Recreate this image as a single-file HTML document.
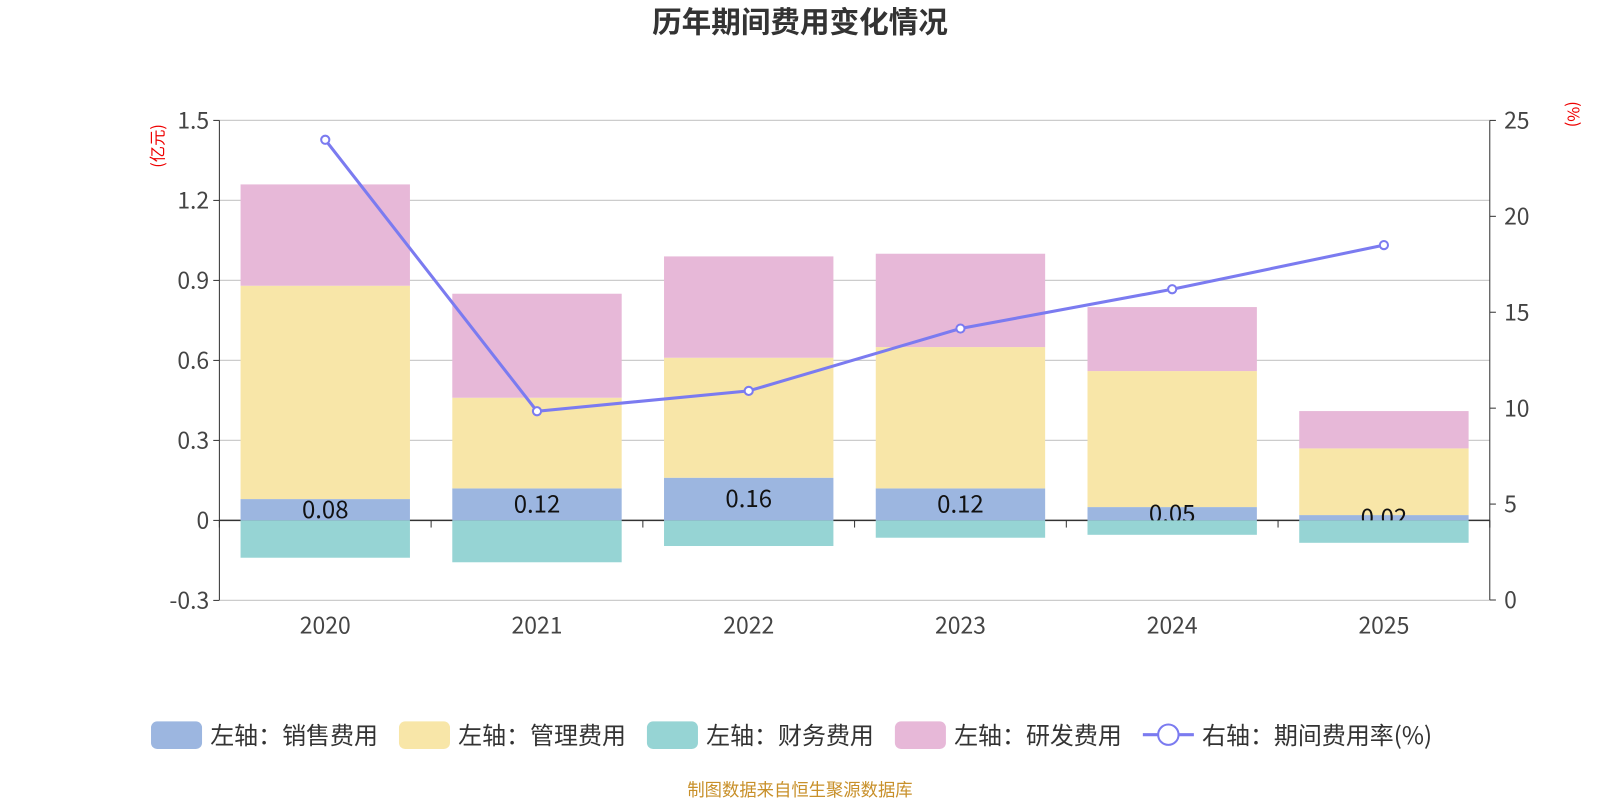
<!DOCTYPE html>
<html><head><meta charset="utf-8"><style>
body{margin:0;background:#fff;width:1600px;height:800px;overflow:hidden}
svg{font-family:"Noto Sans CJK SC","Liberation Sans",sans-serif}
</style></head><body>
<svg id="c" width="1600" height="800">
<g transform="scale(1.0204)">
<text x="784" y="32" text-anchor="middle" font-size="29" font-weight="bold" fill="#333">历年期间费用变化情况</text>
<text transform="translate(160,143) rotate(-90)" text-anchor="middle" font-size="16" fill="#e00">(亿元)</text>
<text transform="translate(1536,112) rotate(90)" text-anchor="middle" font-size="16" fill="#e00">(%)</text>
<g id="grid"></g><g id="bars"></g><g id="axes"></g><g id="line"></g>
<g id="legend" font-size="23.5" fill="#333"></g>
<text x="784" y="780" text-anchor="middle" font-size="17" fill="#c8902a">制图数据来自恒生聚源数据库</text>
</g>
</svg>
<script>
const years=["2020","2021","2022","2023","2024","2025"];
const sales=[0.08,0.12,0.16,0.12,0.05,0.02];
const mgmt=[0.80,0.34,0.45,0.53,0.51,0.25];
const finance=[-0.14,-0.157,-0.096,-0.065,-0.054,-0.084];
const rnd=[0.38,0.39,0.38,0.35,0.24,0.14];
const rate=[23.99,9.84,10.9,14.15,16.2,18.5];
const leftTicks=[-0.3,0,0.3,0.6,0.9,1.2,1.5];
const rightTicks=[0,5,10,15,20,25];
const NS="http://www.w3.org/2000/svg";
const X0=215,X1=1460,bw=(X1-X0)/years.length;
const yL=v=>510-v*(392/1.5);
const yR=v=>588-v*(470/25);
const xC=i=>X0+bw*(i+0.5);
function mk(p,t,a){const e=document.createElementNS(NS,t);for(const k in a)e.setAttribute(k,a[k]);document.getElementById(p).appendChild(e);return e;}
leftTicks.forEach(t=>{
 const l=mk('grid','line',{x1:X0,x2:X1,y1:yL(t),y2:yL(t),stroke:t===0?'#333':'#ccc','stroke-width':t===0?1.5:1.2});
 
 
 const tx=mk('axes','text',{x:X0-10,y:yL(t)+8,'text-anchor':'end','font-size':22.5,fill:'#444'});tx.textContent=t===0?'0':t.toFixed(1);
 
 
 mk('axes','line',{x1:X0-6,x2:X0,y1:yL(t),y2:yL(t),stroke:'#333'});
});
rightTicks.forEach(t=>{
 const tx=mk('axes','text',{x:X1+14,y:yR(t)+8,'font-size':22.5,fill:'#444'});tx.textContent=t;
 
 
 mk('axes','line',{x1:X1,x2:X1+6,y1:yR(t),y2:yR(t),stroke:'#333'});
});
mk('axes','line',{x1:X0,x2:X0,y1:118,y2:588,stroke:'#333'});
mk('axes','line',{x1:X1,x2:X1,y1:118,y2:588,stroke:'#333'});
for(let i=0;i<=years.length;i++)mk('axes','line',{x1:X0+bw*i,x2:X0+bw*i,y1:510,y2:517,stroke:'#333'});
const W=bw*0.8;
function bar(v,base,col,name){const y1=yL(base),y2=yL(base+v);const r=mk('bars','rect',{x:0,y:Math.min(y1,y2),width:W,height:Math.abs(y1-y2),fill:col});return r;}
years.forEach((y,i)=>{
 const x=xC(i)-W/2;
 bar(sales[i],0,'#9cb6e0','bar-sales-'+y).setAttribute('x',x);
 bar(mgmt[i],sales[i],'#f8e6a8','bar-mgmt-'+y).setAttribute('x',x);
 bar(rnd[i],sales[i]+mgmt[i],'#e7b8d8','bar-rnd-'+y).setAttribute('x',x);
 const t=mk('bars','text',{x:xC(i),y:yL(sales[i]/2)+8,'text-anchor':'middle','font-size':23.5,fill:'#111'});t.textContent=sales[i].toFixed(2);
 
 
 bar(finance[i],0,'#96d4d4','bar-finance-'+y).setAttribute('x',x);
 const xl=mk('axes','text',{x:xC(i),y:621,'text-anchor':'middle','font-size':22.5,fill:'#444'});xl.textContent=y;
 
 
});
mk('line','polyline',{points:rate.map((v,i)=>xC(i)+','+yR(v)).join(' '),fill:'none',stroke:'#7b7bf0','stroke-width':3});
rate.forEach((v,i)=>{const c=mk('line','circle',{cx:xC(i),cy:yR(v),r:4,fill:'#fff',stroke:'#7b7bf0','stroke-width':2});
 
 });
const legs=[['左轴：销售费用','#9cb6e0',148],['左轴：管理费用','#f8e6a8',391],['左轴：财务费用','#96d4d4',634],['左轴：研发费用','#e7b8d8',877]];
legs.forEach(l=>{
 const g=mk('legend','g',{});
 const r=document.createElementNS(NS,'rect');r.setAttribute('x',l[2]);r.setAttribute('y',707);r.setAttribute('width',50);r.setAttribute('height',27);r.setAttribute('rx',6);r.setAttribute('fill',l[1]);g.appendChild(r);
 const t=document.createElementNS(NS,'text');t.setAttribute('x',l[2]+58);t.setAttribute('y',729);t.textContent=l[0];g.appendChild(t);
});
const g=mk('legend','g',{});
g.innerHTML='<line x1="1120" x2="1170" y1="720" y2="720" stroke="#7b7bf0" stroke-width="3"/><circle cx="1145" cy="720" r="10" fill="#fff" stroke="#7b7bf0" stroke-width="2"/><text x="1178" y="729">右轴：期间费用率(%)</text>';
</script>
</body></html>
